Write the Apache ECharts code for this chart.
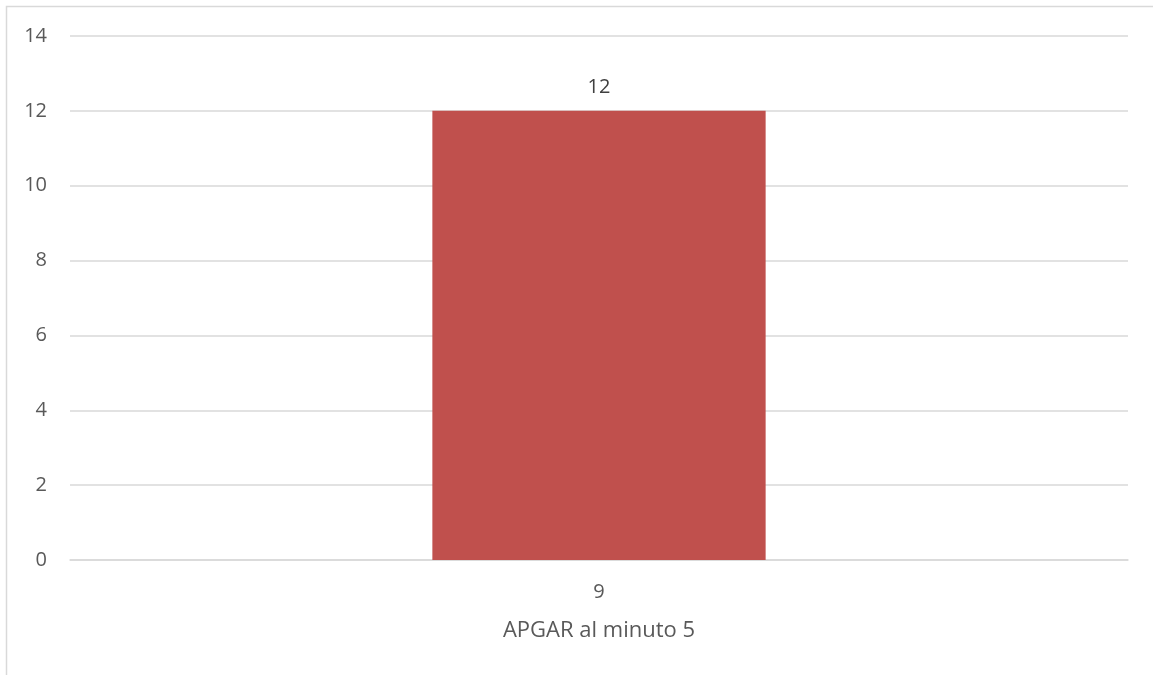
<!DOCTYPE html>
<html>
<head>
<meta charset="utf-8">
<script src="https://cdn.jsdelivr.net/npm/echarts@6/dist/echarts.min.js"></script>
<style>
  html, body { margin: 0; padding: 0; background: #ffffff; }
  #chart { width: 1153px; height: 675px; }
</style>
</head>
<body>
<div id="chart"></div>
<script>
// APGAR score at minute 5: count of newborns per score
const categories = ['9'];
const counts = [12];
const axisTitle = 'APGAR al minuto 5';
const yMin = 0;
const yMax = 14;
const yStep = 2;

const chart = echarts.init(document.getElementById('chart'), null, { renderer: 'canvas' });
const fontFamily = '"Open Sans", "Noto Sans", "Liberation Sans", sans-serif';

chart.setOption({
  backgroundColor: '#ffffff',
  animation: false,
  graphic: [{
    type: 'rect',
    shape: { x: 6.5, y: 6.5, width: 1160, height: 680 },
    style: { fill: 'none', stroke: '#d9d9d9', lineWidth: 1.5 },
    silent: true
  }],
  grid: { left: 70, right: 25, top: 36, bottom: 115, containLabel: false },
  xAxis: {
    type: 'category',
    data: categories,
    name: axisTitle,
    nameLocation: 'middle',
    nameGap: 60,
    nameTextStyle: { color: '#595959', fontSize: 22, fontFamily: fontFamily },
    axisLine: { show: true, lineStyle: { color: '#d9d9d9', width: 1.5 } },
    axisTick: { show: false },
    axisLabel: { color: '#595959', fontSize: 20, margin: 22, fontFamily: fontFamily }
  },
  yAxis: {
    type: 'value',
    min: yMin,
    max: yMax,
    interval: yStep,
    axisLine: { show: false },
    axisTick: { show: false },
    axisLabel: { color: '#595959', fontSize: 20, margin: 23, fontFamily: fontFamily },
    splitLine: { lineStyle: { color: '#d9d9d9', width: 1.5 } }
  },
  series: [{
    type: 'bar',
    data: counts,
    barWidth: '31.5%',
    itemStyle: { color: '#c0504d' },
    label: {
      show: true,
      position: 'top',
      distance: 14,
      color: '#404040',
      fontSize: 20,
      fontFamily: fontFamily
    }
  }]
});
</script>
</body>
</html>
